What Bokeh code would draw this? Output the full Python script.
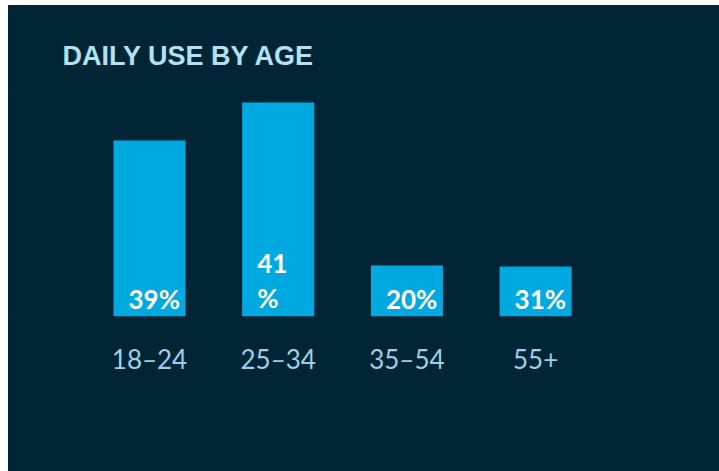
from bokeh.plotting import figure
from bokeh.models import Range1d, FixedTicker, ColumnDataSource
from bokeh.embed import file_html
from bokeh.resources import INLINE

# ---- data ----
categories = ["18–24", "25–34", "35–54", "55+"]
value_labels = ["39%", "41\n%", "20%", "31%"]
bar_heights = [176, 214, 51, 50]   # drawn bar lengths (arbitrary units, as pictured)

BG = "#012534"
BAR = "#00a9e0"

xs = list(range(len(categories)))
src = ColumnDataSource(dict(x=xs, top=bar_heights, lab=value_labels))

p = figure(width=711, height=466, output_backend="svg", toolbar_location=None,
           x_range=Range1d(-1.0956, 4.4289), y_range=Range1d(0, 226),
           min_border_left=0, min_border_right=0, min_border_top=85, min_border_bottom=155)
p.margin = (5, 0, 0, 8)
p.styles = {"background-color": BG}
p.background_fill_color = BG
p.border_fill_color = BG
p.outline_line_color = None
p.grid.visible = False
p.yaxis.visible = False

p.title.text = "DAILY USE BY AGE"
p.title.text_font = "Liberation Sans"
p.title.text_font_style = "bold"
p.title.text_font_size = "27px"
p.title.text_color = "#b4e0f4"
p.title.align = "left"
p.title.offset = 54
p.title.standoff = 39

p.vbar(x="x", top="top", bottom=0, width=0.56, source=src, color=BAR, line_color=None)

p.text(x="x", y=0, text="lab", source=src, text_align="left", text_baseline="bottom",
       x_offset=-21, y_offset=-2, text_color="white", text_font_style="bold",
       text_font_size="26px", text_font={"value": "Lato"}, text_line_height=1.1)

ax = p.xaxis[0]
ax.ticker = FixedTicker(ticks=xs)
ax.major_label_overrides = {i: c for i, c in zip(xs, categories)}
ax.axis_line_color = None
ax.major_tick_line_color = None
ax.minor_tick_line_color = None
ax.major_label_text_font = "Lato"
ax.major_label_text_font_size = "26px"
ax.major_label_text_color = "#9dd0e8"
ax.major_label_standoff = 20

open("out.html", "w").write(file_html(p, INLINE))
